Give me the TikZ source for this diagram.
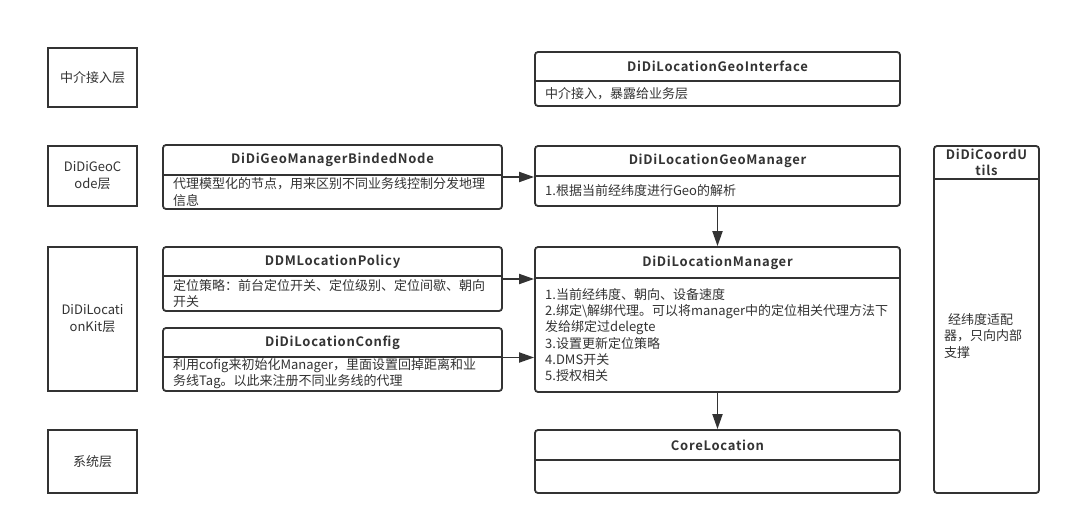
\documentclass[tikz,border=0pt]{standalone}
\usepackage{fontspec}
\setmainfont{Noto Sans CJK SC}[BoldFont={Noto Sans CJK SC Bold}]
\newfontfamily\hdrfont{Noto Sans CJK SC Bold}[LetterSpace=5.5]
\usetikzlibrary{arrows.meta}
\definecolor{ln}{HTML}{333333}
\definecolor{tx}{HTML}{333333}
\newcommand{\cbox}[8]{%
  \node[box, minimum width={#4-#2}, minimum height={#5-#3}] (#1) at ({(#2+#4)/2},{(#3+#5)/2}) {};
  \draw[sepline] (#2,#6) -- (#4,#6);
  \node[hdr] (#1-t) at ({(#2+#4)/2},{(#3+#6)/2}) {#7};
  \node[body] (#1-b) at ({#2+10},{(#6+#5)/2}) {#8};
}
\begin{document}
\begin{tikzpicture}[x=1pt,y=-1pt,
  box/.style={draw=ln, line width=1.8pt, rounded corners=3pt, inner sep=0pt},
  layer/.style={draw=ln, line width=1.8pt, inner sep=0pt, align=center, text=tx,
    font=\fontsize{13}{17}\selectfont},
  hdr/.style={font=\hdrfont\fontsize{13}{16}\selectfont, text=tx, inner sep=0pt, align=center},
  body/.style={font=\fontsize{13}{16.2}\selectfont, text=tx, inner sep=0pt, align=left, anchor=west},
  sepline/.style={draw=ln, line width=1.8pt},
  arr/.style={draw=ln, line width=1.8pt, -{Triangle[length=15pt,width=10pt]}}
]
\useasboundingbox[fill=white] (0,0) rectangle (1071,524);

% layer boxes
\node[layer, minimum width=89pt, minimum height=59pt] (L1) at (92.5,77.5) {中介接入层};
\node[layer, minimum width=89pt, minimum height=60pt] (L2) at (92.5,176) {DiDiGeoC\\ode层};
\node[layer, minimum width=89pt, minimum height=144pt] (L3) at (92.5,319) {DiDiLocati\\onKit层};
\node[layer, minimum width=89pt, minimum height=63pt] (L4) at (92.5,461.5) {系统层};

% class boxes
\cbox{geoi}{535}{52}{900}{106}{81}{DiDiLocationGeoInterface}{中介接入，暴露给业务层}
\cbox{geom}{535}{146}{900}{206}{176}{DiDiLocationGeoManager}{1.根据当前经纬度进行Geo的解析}
\cbox{locm}{535}{247}{900}{392}{278}{DiDiLocationManager}{1.当前经纬度、朝向、设备速度\\2.绑定\textbackslash 解绑代理。可以将manager中的定位相关代理方法下\\发给绑定过delegte\\3.设置更新定位策略\\4.DMS开关\\5.授权相关}
\cbox{core}{535}{430}{900}{493}{460}{CoreLocation}{}
\cbox{bind}{163}{145}{502}{209}{175}{DiDiGeoManagerBindedNode}{代理模型化的节点，用来区别不同业务线控制分发地理\\信息}
\cbox{policy}{163}{247}{502}{311}{276}{DDMLocationPolicy}{定位策略：前台定位开关、定位级别、定位间歇、朝向\\开关}
\cbox{config}{163}{328}{502}{391}{357}{DiDiLocationConfig}{利用cofig来初始化Manager，里面设置回掉距离和业\\务线Tag。以此来注册不同业务线的代理}
\cbox{utils}{934}{146}{1039}{493}{179}{DiDiCoordU\\tils}{\hspace*{4pt}经纬度适配\\器，只向内部\\支撑}

% connectors
\draw[arr] (bind.east) -- (bind.east -| geom.west);
\draw[arr] (policy.east) -- (policy.east -| locm.west);
\draw[arr] ([yshift=2pt]config.east) -- ([yshift=2pt]config.east -| locm.west);
\draw[arr] (geom.south) -- (locm.north);
\draw[arr] (locm.south) -- (core.north);
\end{tikzpicture}
\end{document}
